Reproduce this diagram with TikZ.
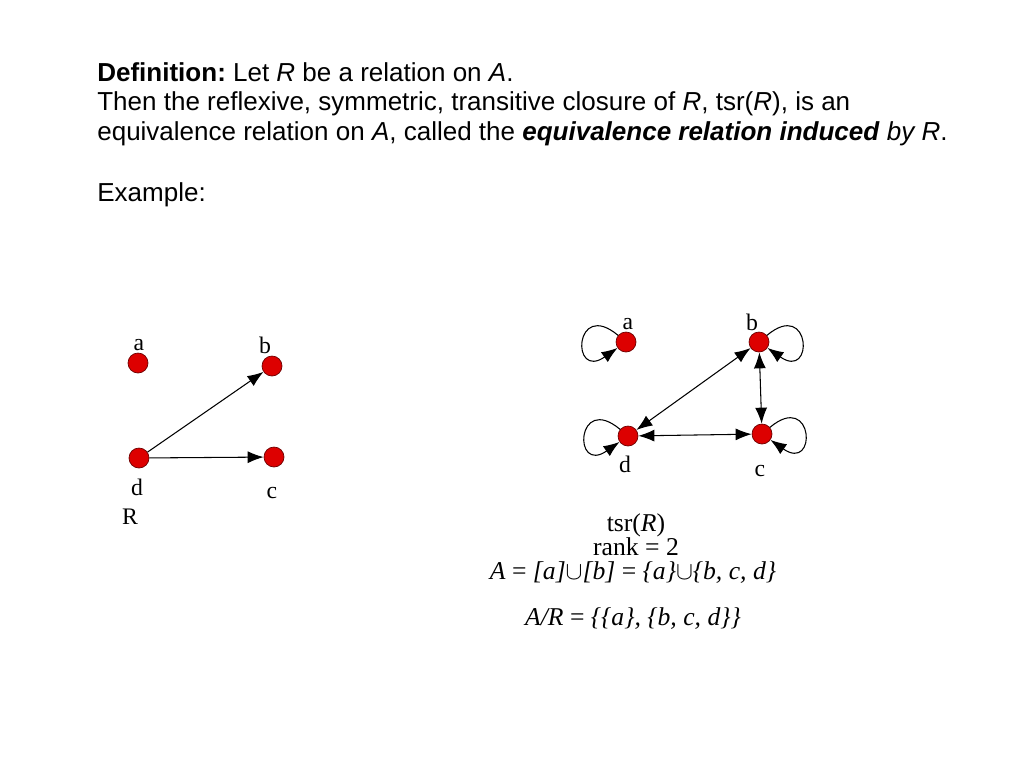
\documentclass[tikz,border=0pt]{standalone}
\usepackage{fontspec}
\setmainfont{Liberation Serif}
\newfontfamily\arialfont{Liberation Sans}
\usetikzlibrary{arrows.meta}
\definecolor{vertexred}{RGB}{221,0,0}
\definecolor{vertexrim}{RGB}{110,0,0}
\tikzset{
  vertex/.style={circle, fill=vertexred, draw=vertexrim, line width=0.4pt,
    minimum size=0.4cm, inner sep=0pt},
  vlabel/.style={anchor=base, inner sep=0pt, font=\fontsize{13.5}{16}\selectfont},
  deftext/.style={anchor=base west, inner sep=0pt,
    font=\arialfont\fontsize{14.8}{18}\selectfont},
  mathtext/.style={anchor=base, inner sep=0pt, font=\fontsize{14.6}{17}\selectfont},
  arr/.style={line width=0.6pt, -{Latex[length=0.32cm,width=0.24cm]}},
  dblarr/.style={line width=0.6pt, {Latex[length=0.32cm,width=0.24cm]}-{Latex[length=0.32cm,width=0.24cm]}},
  selfloop/.style={line width=0.6pt, -{Latex[length=0.32cm,width=0.24cm]}, min distance=1.15cm},
}
\frenchspacing
\begin{document}
\begin{tikzpicture}[x=0.02cm, y=0.02cm]
\useasboundingbox[fill=white] (0,0) rectangle (1024,-768);

% definition text
\node[deftext] (defa) at (97,-81) {\textbf{Definition:} Let \textit{R} be a relation on \textit{A}.};
\node[deftext] (defb) at (97,-110.5) {Then the reflexive, symmetric, transitive closure of \textit{R}, tsr(\textit{R}), is an};
\node[deftext] (defc) at (97,-140) {equivalence relation on \textit{A}, called the \textbf{\textit{equivalence relation induced}} \textit{by R}.};
\node[deftext] (example) at (97,-201) {Example:};

% the relation R
\node[vertex] (la) at (138,-363) {};
\node[vertex] (lb) at (272,-366) {};
\node[vertex] (ld) at (139,-458) {};
\node[vertex] (lc) at (274,-457) {};
\node[vlabel] (lalab) at (139,-350) {a};
\node[vlabel] (lblab) at (265,-353) {b};
\node[vlabel] (ldlab) at (137,-495) {d};
\node[vlabel] (lclab) at (272,-498) {c};
\node[vlabel] (rlab) at (130,-524) {R};
\draw[arr] (ld) -- (lb);
\draw[arr] (ld) -- (lc);

% its closure tsr(R)
\node[vertex] (ra) at (626,-342) {};
\node[vertex] (rb) at (759,-342) {};
\node[vertex] (rd) at (628,-436) {};
\node[vertex] (rc) at (762,-434) {};
\node[vlabel] (ralab) at (628,-329) {a};
\node[vlabel] (rblab) at (752,-330) {b};
\node[vlabel] (rdlab) at (625,-472) {d};
\node[vlabel] (rclab) at (760,-476) {c};
\draw[dblarr] (rd) -- (rb);
\draw[dblarr] (rd) -- (rc);
\draw[dblarr] (rb) -- (rc);
\draw[selfloop] (ra) to[out=140,in=215] (ra);
\draw[selfloop] (rd) to[out=140,in=215] (rd);
\draw[selfloop] (rb) to[out=40,in=325] (rb);
\draw[selfloop] (rc) to[out=40,in=325] (rc);

\node[mathtext] (tsr) at (636,-531) {tsr(\textit{R})};
\node[mathtext] (rank) at (636,-555) {rank = 2};
\node[mathtext] (classes) at (633,-579) {\textit{A} = \textit{[a]}$\cup$\textit{[b]} = \textit{\{a\}}$\cup$\textit{\{b, c, d\}}};
\node[mathtext] (quotient) at (633,-625) {\textit{A/R} = \textit{\{\{a\}, \{b, c, d\}\}}};
\end{tikzpicture}
\end{document}
